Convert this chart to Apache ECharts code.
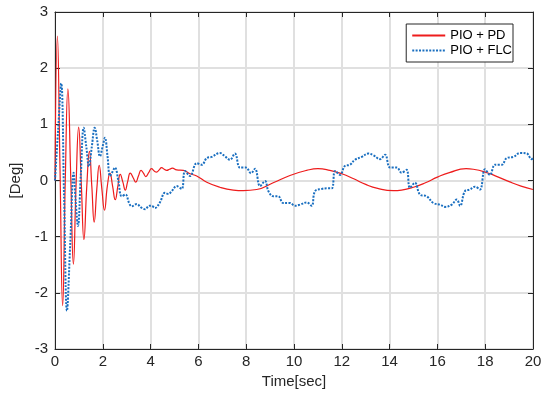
<!DOCTYPE html>
<html>
<head>
<meta charset="utf-8">
<script src="https://cdn.jsdelivr.net/npm/echarts@6/dist/echarts.min.js"></script>
<style>html,body{margin:0;padding:0;background:#fff}#c{width:546px;height:394px}</style>
</head>
<body>
<div id="c"></div>
<script>
var seriesNames = ['PIO + PD', 'PIO + FLC'];
var xTicks = [0, 2, 4, 6, 8, 10, 12, 14, 16, 18, 20];
var yTicks = [-3, -2, -1, 0, 1, 2, 3];

// PIO + PD: [time, deg]
var redPoints = [
  [0,0],[0.1,2.57],[0.21,0.2],[0.32,-2.23],[0.43,0.0],[0.54,1.63],[0.66,0.05],[0.77,-1.49],
  [0.88,-0.1],[0.99,0.95],[1.1,-0.05],[1.21,-1.05],[1.33,-0.1],[1.44,0.52],[1.54,-0.1],[1.64,-0.74],
  [1.75,-0.15],[1.85,0.27],[1.96,-0.15],[2.07,-0.53],[2.19,-0.1],[2.30,0.13],[2.41,-0.1],[2.52,-0.34],
  [2.63,-0.1],[2.73,0.11],[2.84,-0.03],[2.94,-0.17],[3.04,-0.02],[3.15,0.13],[3.27,0.05],[3.38,-0.03],
  [3.49,0.08],[3.6,0.18],[3.7,0.13],[3.8,0.07],[3.92,0.14],[4.04,0.21],[4.15,0.17],[4.25,0.15],
  [4.36,0.19],[4.46,0.23],[4.57,0.2],[4.67,0.18],[4.79,0.2],[4.91,0.22],[5.09,0.19],[5.37,0.18],
  [5.65,0.12],[5.93,0.08],[6.35,-0.03],[6.9,-0.12],[7.46,-0.17],[7.88,-0.18],[8.44,-0.16],[9.13,-0.04],
  [9.83,0.09],[10.53,0.18],[11.0,0.21],[11.5,0.18],[12.0,0.12],[12.5,0.03],[13.0,-0.07],[13.5,-0.14],
  [14.15,-0.18],[14.5,-0.17],[15.0,-0.12],[15.5,-0.04],[16.0,0.06],[16.5,0.14],[17.2,0.21],[17.5,0.2],
  [18.0,0.15],[18.5,0.07],[19.0,-0.02],[19.5,-0.1],[20,-0.16]
];

// PIO + FLC: [time, deg]
var bluePoints = [
  [0,0],[0.13,0.9],[0.26,1.73],[0.38,-0.3],[0.50,-2.32],[0.64,-1.1],[0.78,0.14],[0.87,-0.4],
  [0.96,-0.81],[1.08,0.1],[1.2,0.94],[1.31,0.6],[1.42,0.25],[1.54,0.6],[1.66,0.94],[1.77,0.7],
  [1.88,0.43],[2.0,0.62],[2.09,0.76],[2.2,0.42],[2.3,0.08],[2.4,0.15],[2.51,0.23],[2.65,0.0],
  [2.79,-0.28],[2.95,-0.25],[3.1,-0.4],[3.21,-0.46],[3.42,-0.42],[3.6,-0.48],[3.77,-0.51],[3.95,-0.45],
  [4.04,-0.45],[4.18,-0.49],[4.39,-0.39],[4.6,-0.22],[4.75,-0.24],[4.88,-0.19],[5.09,-0.10],[5.3,-0.15],
  [5.44,0.17],[5.65,0.08],[5.93,0.31],[6.14,0.28],[6.35,0.40],[6.55,0.42],[6.9,0.49],[7.11,0.43],
  [7.32,0.37],[7.53,0.48],[7.74,0.23],[7.99,0.23],[8.2,0.13],[8.37,0.21],[8.58,-0.10],[8.79,-0.01],
  [8.93,-0.19],[9.13,-0.28],[9.34,-0.28],[9.55,-0.40],[9.83,-0.40],[10.04,-0.45],[10.25,-0.43],[10.53,-0.39],
  [10.74,-0.45],[10.88,-0.19],[11.16,-0.15],[11.37,-0.14],[11.58,-0.14],[11.72,0.17],[11.93,0.10],[12.13,0.26],
  [12.34,0.28],[12.55,0.37],[12.83,0.42],[13.11,0.48],[13.32,0.45],[13.6,0.38],[13.81,0.46],[14.02,0.23],
  [14.3,0.23],[14.5,0.14],[14.71,0.19],[14.85,-0.13],[15.06,-0.04],[15.27,-0.25],[15.55,-0.28],[15.83,-0.40],
  [16.11,-0.43],[16.32,-0.47],[16.6,-0.43],[16.81,-0.34],[16.95,-0.45],[17.15,-0.19],[17.36,-0.16],[17.57,-0.11],
  [17.78,-0.16],[17.99,0.20],[18.2,0.10],[18.41,0.28],[18.69,0.28],[18.9,0.40],[19.18,0.42],[19.46,0.49],
  [19.74,0.48],[19.94,0.38],[20,0.4]
];

var FONT = 'Liberation Sans, Arial, sans-serif';
var chart = echarts.init(document.getElementById('c'), null, {renderer: 'canvas'});
var axisLineStyle = {color: '#262626', width: 1};
var gridLine = {show: true, lineStyle: {color: '#e0e0e0', width: 2}};
function xAxisBase(pos, showLabels) {
  return {
    type: 'value', position: pos, min: xTicks[0], max: xTicks[xTicks.length - 1], interval: 2,
    axisLine: {show: true, onZero: false, lineStyle: axisLineStyle},
    axisTick: {show: true, inside: true, length: 5, lineStyle: axisLineStyle},
    axisLabel: {show: showLabels, color: '#262626', fontSize: 15, fontFamily: FONT, margin: 5},
    splitLine: showLabels ? gridLine : {show: false}
  };
}
function yAxisBase(pos, showLabels) {
  return {
    type: 'value', position: pos, min: yTicks[0], max: yTicks[yTicks.length - 1], interval: 1,
    axisLine: {show: true, onZero: false, lineStyle: axisLineStyle},
    axisTick: {show: true, inside: true, length: 5, lineStyle: axisLineStyle},
    axisLabel: {show: showLabels, color: '#262626', fontSize: 15, fontFamily: FONT, margin: 7},
    splitLine: showLabels ? gridLine : {show: false}
  };
}
var xa = xAxisBase('bottom', true);
xa.name = 'Time[sec]';
xa.nameLocation = 'middle';
xa.nameGap = 25;
xa.nameTextStyle = {color: '#262626', fontSize: 15, fontFamily: FONT};
var ya = yAxisBase('left', true);
ya.name = '[Deg]';
ya.nameLocation = 'middle';
ya.nameGap = 23;
ya.nameTextStyle = {color: '#262626', fontSize: 15, fontFamily: FONT};

chart.setOption({
  animation: false,
  backgroundColor: '#ffffff',
  grid: {left: 55, right: 13, top: 12, bottom: 44, containLabel: false},
  legend: {
    orient: 'vertical', right: 33, top: 24,
    backgroundColor: '#ffffff', borderColor: '#262626', borderWidth: 1,
    padding: [5, 1, 5, 5], itemGap: 2, itemWidth: 33, itemHeight: 12,
    textStyle: {color: '#000', fontSize: 13, fontFamily: FONT},
    itemStyle: {opacity: 0},
    data: seriesNames
  },
  xAxis: [xa, xAxisBase('top', false)],
  yAxis: [ya, yAxisBase('right', false)],
  series: [
    {
      name: seriesNames[0], type: 'line', data: redPoints, xAxisIndex: 0, yAxisIndex: 0,
      showSymbol: false, symbol: 'none', smooth: 0.5,
      lineStyle: {color: '#ee1c1c', width: 1.2}, itemStyle: {color: '#ee1c1c'}
    },
    {
      name: seriesNames[1], type: 'line', data: bluePoints, xAxisIndex: 0, yAxisIndex: 0,
      showSymbol: false, symbol: 'none', smooth: 0.4,
      lineStyle: {color: '#1a6fc0', width: 2, type: [2, 1.4]}, itemStyle: {color: '#1a6fc0'}
    }
  ]
});
</script>
</body>
</html>
